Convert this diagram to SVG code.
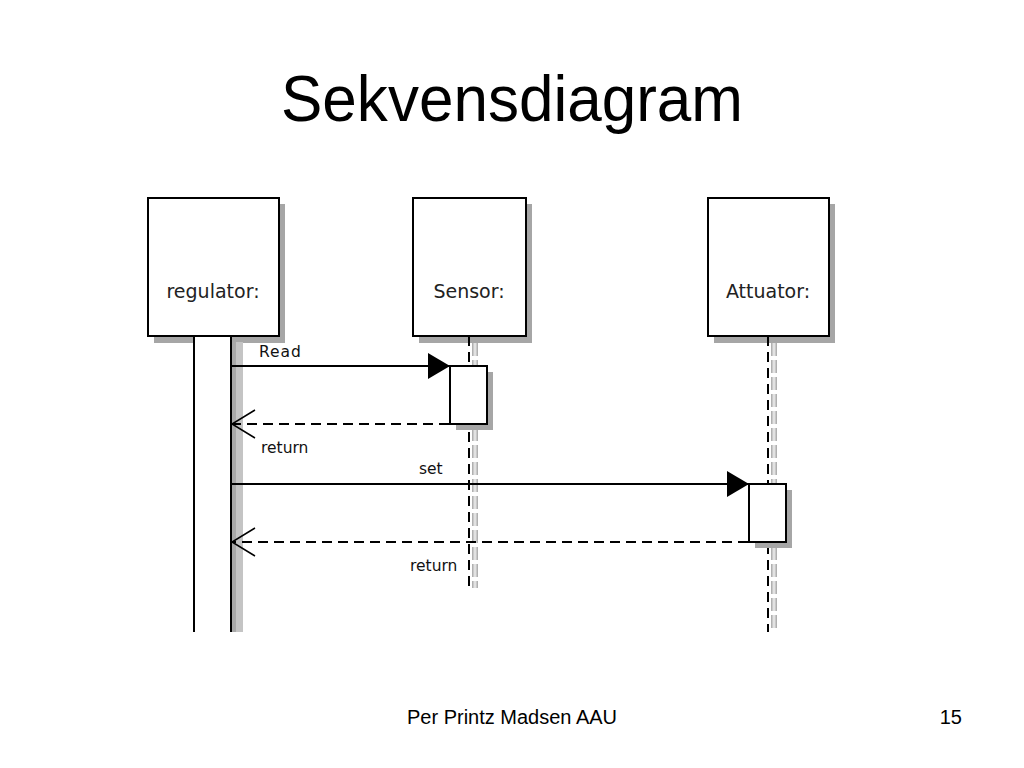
<svg xmlns="http://www.w3.org/2000/svg" width="1024" height="768" viewBox="0 0 1024 768">
<style>
.box{fill:#fff;stroke:#000;stroke-width:2}
.sh{fill:#a6a6a6}
.lbl{font-family:"DejaVu Sans",sans-serif;font-size:19px;fill:#222}
.msg{font-family:"DejaVu Sans",sans-serif;font-size:15.5px;fill:#111}
.life{stroke:#000;stroke-width:2;stroke-dasharray:10 6;fill:none}
.lifesh{stroke:#b0b0b0;stroke-width:6;stroke-dasharray:13 4;fill:none}
.lifesh2{stroke:#e2e2e2;stroke-width:3;stroke-dasharray:13 4;fill:none}
.call{stroke:#000;stroke-width:2;fill:none}
.ret{stroke:#000;stroke-width:2;stroke-dasharray:10 6;fill:none}
</style>
<defs>
<marker id="filled" markerWidth="24" markerHeight="26" refX="23" refY="13" orient="auto" markerUnits="userSpaceOnUse">
<path d="M1,0 L23,13 L1,26 Z" fill="#000"/>
</marker>
<marker id="open" markerWidth="26" markerHeight="30" refX="24" refY="15" orient="auto" markerUnits="userSpaceOnUse">
<path d="M1,1 L24,15 L1,29" fill="none" stroke="#000" stroke-width="1.5"/>
</marker>
</defs>
<rect width="1024" height="768" fill="#fff"/>
<text x="512" y="121" text-anchor="middle" font-family="Liberation Sans, Arial, sans-serif" font-size="65" textLength="462" lengthAdjust="spacingAndGlyphs" fill="#000">Sekvensdiagram</text>

<g id="regulator">
<rect class="sh" x="154" y="204" width="131" height="139"/>
<rect class="box" x="148" y="198" width="131" height="138"/>
<text class="lbl" x="213" y="298" text-anchor="middle">regulator:</text>
<rect x="231" y="342" width="12" height="290" fill="#a8a8a8"/>
<rect x="236" y="342" width="7" height="290" fill="#c4c4c4"/>
<path d="M194,336 V632 M231,336 V632" stroke="#000" stroke-width="2" fill="none"/>
<rect x="195" y="337" width="35" height="295" fill="#fff"/>
</g>

<g id="sensor">
<rect class="sh" x="419" y="204" width="113" height="139"/>
<line class="lifesh" x1="475" y1="343" x2="475" y2="588"/>
<line class="lifesh2" x1="475" y1="343" x2="475" y2="588"/>
<line class="life" x1="469" y1="336" x2="469" y2="586"/>
<rect class="box" x="413" y="198" width="113" height="138"/>
<text class="lbl" x="469" y="298" text-anchor="middle">Sensor:</text>
<rect class="sh" x="456" y="372" width="37" height="58"/>
<rect class="box" x="450" y="366" width="37" height="58"/>
</g>

<g id="attuator">
<rect class="sh" x="714" y="204" width="121" height="139"/>
<line class="lifesh" x1="774" y1="343" x2="774" y2="632"/>
<line class="lifesh2" x1="774" y1="343" x2="774" y2="632"/>
<line class="life" x1="768" y1="336" x2="768" y2="632"/>
<rect class="box" x="708" y="198" width="121" height="138"/>
<text class="lbl" x="768" y="298" text-anchor="middle">Attuator:</text>
<rect class="sh" x="755" y="490" width="37" height="58"/>
<rect class="box" x="749" y="484" width="37" height="58"/>
</g>

<g id="connectors">
<line class="call" x1="231" y1="366" x2="450" y2="366" marker-end="url(#filled)"/>
<line class="ret" x1="449" y1="424" x2="232" y2="424" marker-end="url(#open)"/>
<line class="call" x1="231" y1="484" x2="749" y2="484" marker-end="url(#filled)"/>
<line class="ret" x1="748" y1="542" x2="232" y2="542" marker-end="url(#open)"/>
<text class="msg" x="259" y="357" letter-spacing="1">Read</text>
<text class="msg" x="261" y="453">return</text>
<text class="msg" x="419" y="474">set</text>
<text class="msg" x="410" y="571">return</text>
</g>

<text x="512" y="724" text-anchor="middle" font-family="Liberation Sans, Arial, sans-serif" font-size="20" fill="#000">Per Printz Madsen AAU</text>
<text x="962" y="724" text-anchor="end" font-family="Liberation Sans, Arial, sans-serif" font-size="20" fill="#000">15</text>
</svg>
